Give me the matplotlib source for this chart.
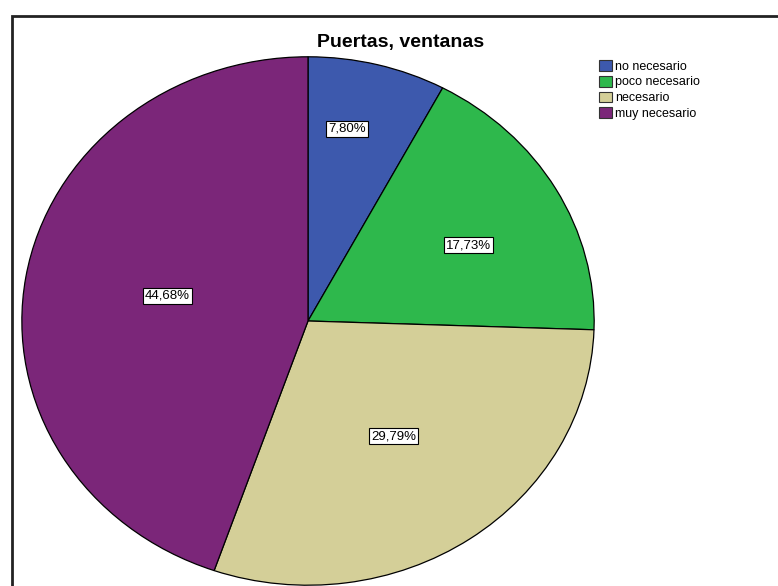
import numpy as np
import matplotlib
matplotlib.use("Agg")
import matplotlib.pyplot as plt
from matplotlib.patches import Rectangle, Patch

categories = ["no necesario", "poco necesario", "necesario", "muy necesario"]
values = [7.80, 17.73, 29.79, 44.68]
colors = ["#3d59ad", "#2eb84c", "#d4cf98", "#7b2679"]
label_radius = [0.74, 0.63, 0.53, 0.50]
label_shift = [3.5, -3.0, 0.0, -1.5]
title = "Puertas, ventanas"

plt.rcParams['font.family'] = ['Liberation Sans', 'DejaVu Sans']

W, H = 778, 586
fig = plt.figure(figsize=(W / 100, H / 100), dpi=100)

fig.patches.append(Rectangle((11.5 / W, -0.05), 1.1, (H - 15.5) / H + 0.05,
                             transform=fig.transFigure, fill=False,
                             edgecolor="#222222", linewidth=2.0, zorder=0))

ax = fig.add_axes([21 / W, 0.0, 574 / W, 530 / H])
wedges, _ = ax.pie(values, colors=colors, startangle=90, counterclock=False,
                   wedgeprops=dict(edgecolor="black", linewidth=0.9))
ax.set_aspect('auto')
ax.set_xlim(-1.003, 1.003)
ax.set_ylim(-1.003, 1.003)
ax.axis('off')

for w, v, r, s in zip(wedges, values, label_radius, label_shift):
    ang = np.deg2rad((w.theta1 + w.theta2) / 2 + s)
    ax.text(r * np.cos(ang), r * np.sin(ang), f"{v:.2f}%".replace('.', ','),
            ha='center', va='center', fontsize=9.5,
            bbox=dict(boxstyle='square,pad=0.15', facecolor='white',
                      edgecolor='black', linewidth=0.8))

fig.text(401 / W, 1 - 42 / H, title, ha='center', va='center',
         fontsize=14, fontweight='bold')

handles = [Patch(facecolor=c, edgecolor='#333333', linewidth=0.8) for c in colors]
fig.legend(handles, categories, loc='upper left',
           bbox_to_anchor=(594 / W, 1 - 55 / H), frameon=False,
           fontsize=9, handlelength=1.05, handleheight=0.95,
           handletextpad=0.25, labelspacing=0.25, borderaxespad=0)

fig.savefig("out.png", dpi=100)
